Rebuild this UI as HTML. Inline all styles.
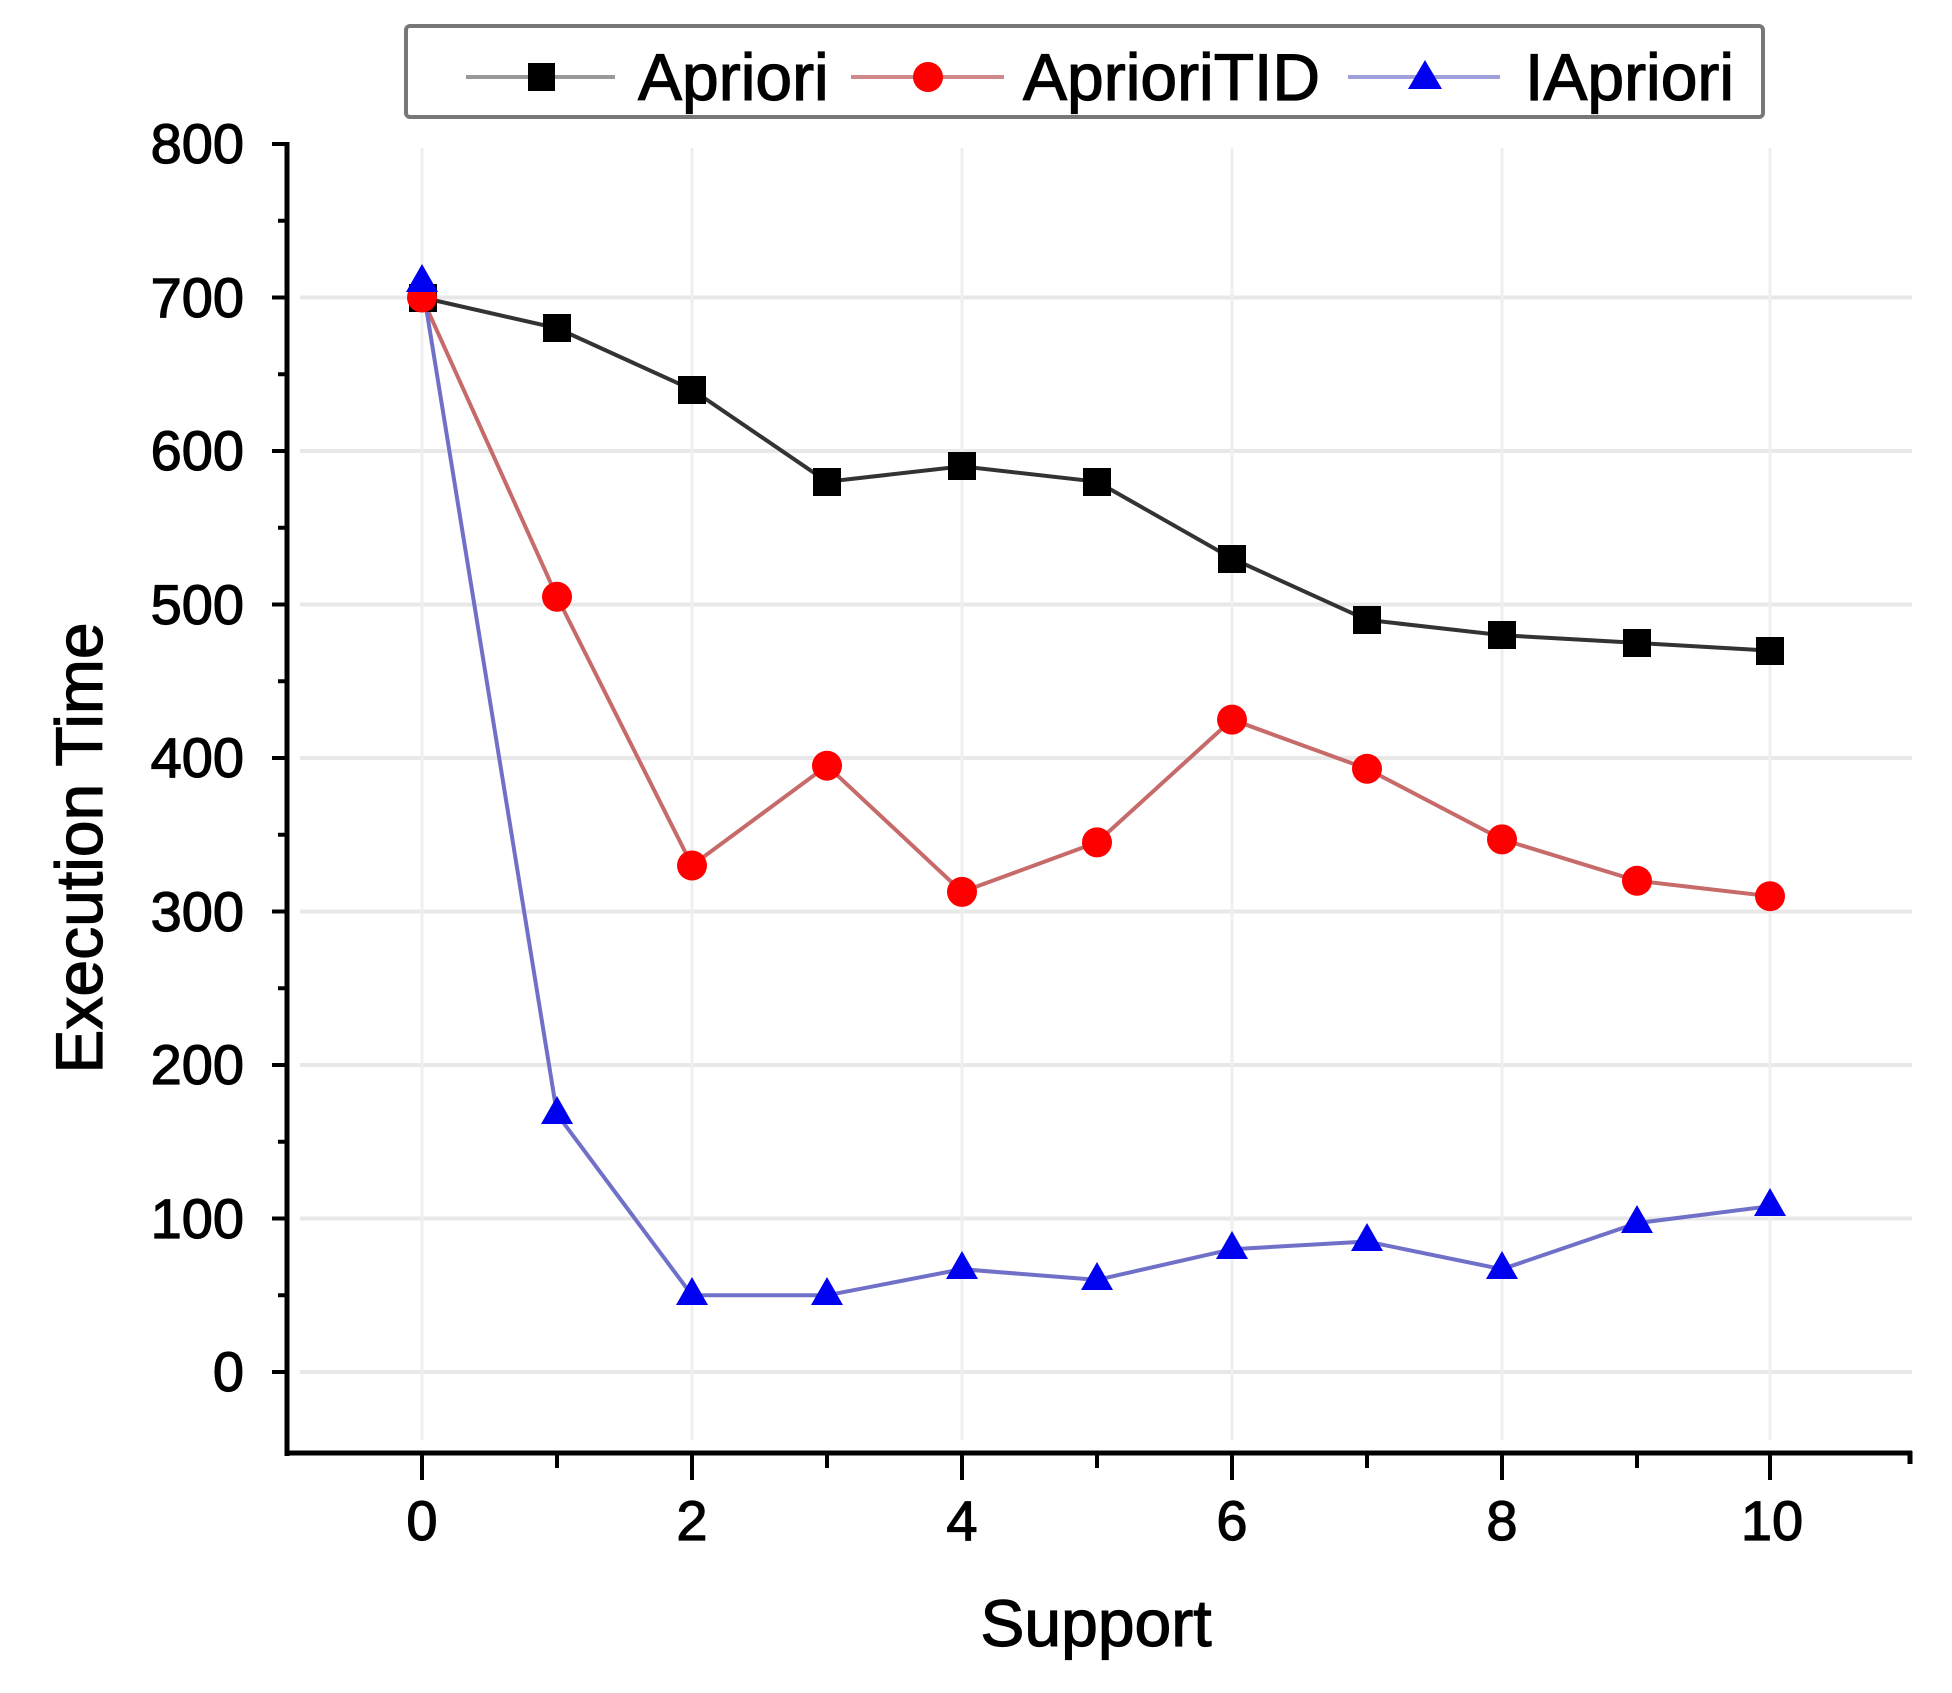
<!DOCTYPE html>
<html><head><meta charset="utf-8"><style>html,body{margin:0;padding:0;background:#fff}svg{display:block}</style></head><body>
<svg width="1952" height="1693" viewBox="0 0 1952 1693" xmlns="http://www.w3.org/2000/svg" font-family="Liberation Sans, Arial, sans-serif">
<rect width="1952" height="1693" fill="#fff"/>
<g stroke="#e8e8e8" stroke-width="4">
<line x1="300" y1="1372" x2="1912" y2="1372"/>
<line x1="300" y1="1218.5" x2="1912" y2="1218.5"/>
<line x1="300" y1="1065" x2="1912" y2="1065"/>
<line x1="300" y1="911.5" x2="1912" y2="911.5"/>
<line x1="300" y1="758" x2="1912" y2="758"/>
<line x1="300" y1="604.5" x2="1912" y2="604.5"/>
<line x1="300" y1="451" x2="1912" y2="451"/>
<line x1="300" y1="297.5" x2="1912" y2="297.5"/>
</g>
<g stroke="#efefef" stroke-width="3">
<line x1="422" y1="148" x2="422" y2="1440"/>
<line x1="692" y1="148" x2="692" y2="1440"/>
<line x1="962" y1="148" x2="962" y2="1440"/>
<line x1="1232" y1="148" x2="1232" y2="1440"/>
<line x1="1502" y1="148" x2="1502" y2="1440"/>
<line x1="1770" y1="148" x2="1770" y2="1440"/>
</g>
<g stroke="#000" stroke-width="5" fill="none">
<line x1="287" y1="142" x2="287" y2="1456"/>
<line x1="285" y1="1453" x2="1912" y2="1453"/>
<line x1="1910" y1="1451" x2="1910" y2="1464"/>
</g>
<g stroke="#000" stroke-width="4">
<line x1="272" y1="144" x2="287" y2="144"/><line x1="278" y1="220.75" x2="287" y2="220.75"/>
<line x1="272" y1="297.5" x2="287" y2="297.5"/><line x1="278" y1="374.25" x2="287" y2="374.25"/>
<line x1="272" y1="451" x2="287" y2="451"/><line x1="278" y1="527.75" x2="287" y2="527.75"/>
<line x1="272" y1="604.5" x2="287" y2="604.5"/><line x1="278" y1="681.25" x2="287" y2="681.25"/>
<line x1="272" y1="758" x2="287" y2="758"/><line x1="278" y1="834.75" x2="287" y2="834.75"/>
<line x1="272" y1="911.5" x2="287" y2="911.5"/><line x1="278" y1="988.25" x2="287" y2="988.25"/>
<line x1="272" y1="1065" x2="287" y2="1065"/><line x1="278" y1="1141.75" x2="287" y2="1141.75"/>
<line x1="272" y1="1218.5" x2="287" y2="1218.5"/><line x1="278" y1="1295.25" x2="287" y2="1295.25"/>
<line x1="272" y1="1372" x2="287" y2="1372"/>
<line x1="422" y1="1453" x2="422" y2="1480"/><line x1="557" y1="1453" x2="557" y2="1468"/>
<line x1="692" y1="1453" x2="692" y2="1480"/><line x1="827" y1="1453" x2="827" y2="1468"/>
<line x1="962" y1="1453" x2="962" y2="1480"/><line x1="1097" y1="1453" x2="1097" y2="1468"/>
<line x1="1232" y1="1453" x2="1232" y2="1480"/><line x1="1367" y1="1453" x2="1367" y2="1468"/>
<line x1="1502" y1="1453" x2="1502" y2="1480"/><line x1="1637" y1="1453" x2="1637" y2="1468"/>
<line x1="1770" y1="1453" x2="1770" y2="1480"/>
</g>
<g font-size="56" fill="#000" stroke="#000" stroke-width="1.2" text-anchor="end">
<text x="244" y="163">800</text><text x="244" y="317">700</text><text x="244" y="470">600</text>
<text x="244" y="624">500</text><text x="244" y="777">400</text><text x="244" y="931">300</text>
<text x="244" y="1084">200</text><text x="244" y="1238">100</text><text x="244" y="1391">0</text>
</g>
<g font-size="56" fill="#000" stroke="#000" stroke-width="1.2" text-anchor="middle">
<text x="422" y="1540">0</text><text x="692" y="1540">2</text><text x="962" y="1540">4</text>
<text x="1232" y="1540">6</text><text x="1502" y="1540">8</text><text x="1772" y="1540">10</text>
</g>
<text x="1096" y="1646" font-size="66" stroke="#000" stroke-width="1.2" text-anchor="middle">Support</text>
<text transform="translate(102,848) rotate(-90)" font-size="66" stroke="#000" stroke-width="1.2" text-anchor="middle">Execution Time</text>
<polyline fill="none" stroke="#333" stroke-width="4" points="422,297.5 557,328.2 692,389.6 827,481.7 962,466.4 1097,481.7 1232,558.5 1367,619.9 1502,635.2 1637,642.9 1770,650.6"/>
<polyline fill="none" stroke="#c76a6a" stroke-width="4" points="422,297.5 557,596.8 692,865.5 827,765.7 962,891.9 1097,842.4 1232,719.6 1367,768.8 1502,839.4 1637,880.8 1770,896.2"/>
<polyline fill="none" stroke="#7070c8" stroke-width="4" points="422,282.2 557,1114.1 692,1295.3 827,1295.3 962,1269.2 1097,1279.9 1232,1249.2 1367,1241.5 1502,1269.2 1637,1223.1 1770,1206.2"/>
<g fill="#000">
<rect x="409" y="284" width="28" height="28"/><rect x="543" y="314" width="28" height="28"/><rect x="678" y="376" width="28" height="28"/>
<rect x="813" y="468" width="28" height="28"/><rect x="948" y="452" width="28" height="28"/><rect x="1083" y="468" width="28" height="28"/>
<rect x="1218" y="545" width="28" height="28"/><rect x="1353" y="606" width="28" height="28"/><rect x="1488" y="621" width="28" height="28"/>
<rect x="1623" y="629" width="28" height="28"/><rect x="1756" y="637" width="28" height="28"/>
</g>
<g fill="#f00">
<circle cx="422" cy="297.5" r="15"/><circle cx="557" cy="596.8" r="15"/><circle cx="692" cy="865.5" r="15"/>
<circle cx="827" cy="765.7" r="15"/><circle cx="962" cy="891.9" r="15"/><circle cx="1097" cy="842.4" r="15"/>
<circle cx="1232" cy="719.6" r="15"/><circle cx="1367" cy="768.8" r="15"/><circle cx="1502" cy="839.4" r="15"/>
<circle cx="1637" cy="880.8" r="15"/><circle cx="1770" cy="896.2" r="15"/>
</g>
<g fill="#0000f0">
<polygon points="422,264 406,292 438,292"/><polygon points="557,1096 541,1124 573,1124"/><polygon points="692,1277 676,1305 708,1305"/>
<polygon points="827,1277 811,1305 843,1305"/><polygon points="962,1251 946,1279 978,1279"/><polygon points="1097,1262 1081,1290 1113,1290"/>
<polygon points="1232,1231 1216,1259 1248,1259"/><polygon points="1367,1223 1351,1251 1383,1251"/><polygon points="1502,1251 1486,1279 1518,1279"/>
<polygon points="1637,1205 1621,1233 1653,1233"/><polygon points="1770,1188 1754,1216 1786,1216"/>
</g>
<rect x="406" y="26" width="1357" height="91" rx="4" fill="#fff" stroke="#777" stroke-width="4"/>
<line x1="466" y1="77" x2="615" y2="77" stroke="#999" stroke-width="4"/>
<rect x="528" y="63" width="27" height="28" fill="#000"/>
<text x="638" y="100" font-size="66" stroke="#000" stroke-width="1.2">Apriori</text>
<line x1="851" y1="77" x2="1004" y2="77" stroke="#d08a8a" stroke-width="4"/>
<circle cx="928" cy="77" r="15" fill="#f00"/>
<text x="1023" y="100" font-size="66" stroke="#000" stroke-width="1.2">AprioriTID</text>
<line x1="1348" y1="77" x2="1500" y2="77" stroke="#a0a0dc" stroke-width="4"/>
<polygon points="1425,60 1408,89 1442,89" fill="#0000f0"/>
<text x="1525" y="100" font-size="66" stroke="#000" stroke-width="1.2">IApriori</text>
</svg>
</body></html>
